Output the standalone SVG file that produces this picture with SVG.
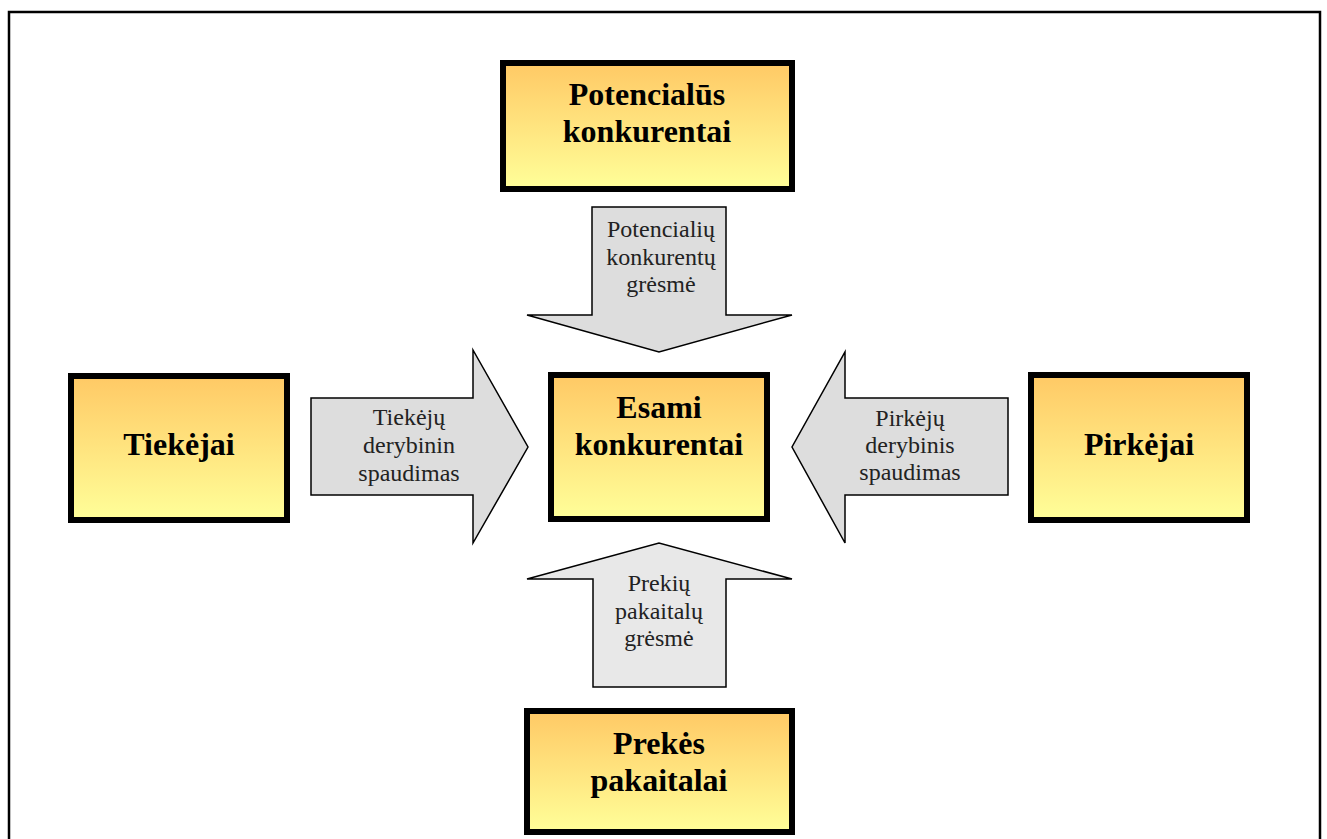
<svg xmlns="http://www.w3.org/2000/svg" width="1327" height="839" viewBox="0 0 1327 839">
<defs>
<linearGradient id="g" x1="0" y1="0" x2="0" y2="1">
<stop offset="0" stop-color="#FFC965"/>
<stop offset="1" stop-color="#FFFF99"/>
</linearGradient>
<style>
.box{fill:url(#g);stroke:#000;stroke-width:6}
.arr{fill:#DDDDDD;stroke:#000;stroke-width:1.5;stroke-linejoin:miter}
.arr2{fill:#E8E8E8;stroke:#000;stroke-width:1.5}
.bt{font-family:"Liberation Serif",serif;font-weight:bold;font-size:32px;text-anchor:middle;fill:#000}
.at{font-family:"Liberation Serif",serif;font-size:24px;text-anchor:middle;fill:#222}
</style>
</defs>
<rect width="1327" height="839" fill="#fff"/>
<rect x="9" y="12" width="1311" height="840" fill="none" stroke="#000" stroke-width="2.5"/>
<g id="connectors">
<polygon class="arr" points="592,207 726,207 726,315 792,315 659,352 527,315 592,315"/>
<polygon class="arr" points="311,398 473,398 473,350 528,447 473,543 473,495 311,495"/>
<polygon class="arr" points="1008,398 845,398 845,352 792,447 845,543 845,495 1008,495"/>
<polygon class="arr2" points="593,687 726,687 726,579 792,579 659,543 527,579 593,579"/>
<text class="at" x="661" y="237">Potencialių</text>
<text class="at" x="661" y="265">konkurentų</text>
<text class="at" x="661" y="292">grėsmė</text>
<text class="at" x="409" y="425">Tiekėjų</text>
<text class="at" x="409" y="453">derybinin</text>
<text class="at" x="409" y="481">spaudimas</text>
<text class="at" x="910" y="426">Pirkėjų</text>
<text class="at" x="910" y="453">derybinis</text>
<text class="at" x="910" y="480">spaudimas</text>
<text class="at" x="659" y="591">Prekių</text>
<text class="at" x="659" y="619">pakaitalų</text>
<text class="at" x="659" y="646">grėsmė</text>
</g>
<g id="potencialus">
<rect class="box" x="503" y="63" width="289" height="126"/>
<text class="bt" x="647" y="105">Potencialūs</text>
<text class="bt" x="647" y="142">konkurentai</text>
</g>
<g id="esami">
<rect class="box" x="551" y="375" width="216" height="144"/>
<text class="bt" x="659" y="418">Esami</text>
<text class="bt" x="659" y="455">konkurentai</text>
</g>
<g id="tiekejai">
<rect class="box" x="71" y="376" width="216" height="144"/>
<text class="bt" x="179" y="455">Tiekėjai</text>
</g>
<g id="pirkejai">
<rect class="box" x="1031" y="375" width="216" height="145"/>
<text class="bt" x="1139" y="455">Pirkėjai</text>
</g>
<g id="prekes">
<rect class="box" x="527" y="711" width="265" height="121"/>
<text class="bt" x="659" y="754">Prekės</text>
<text class="bt" x="659" y="791">pakaitalai</text>
</g>
</svg>
